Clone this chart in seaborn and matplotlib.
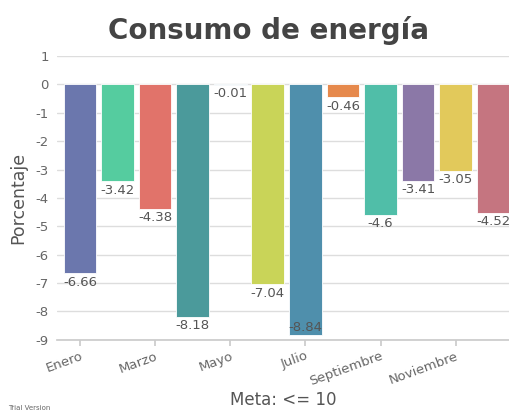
"""Monthly energy consumption bar chart (Consumo de energía)."""

import matplotlib
matplotlib.use("Agg")
import matplotlib.pyplot as plt
import pandas as pd
import seaborn as sns

months = ["Enero", "Febrero", "Marzo", "Abril", "Mayo", "Junio",
          "Julio", "Agosto", "Septiembre", "Octubre", "Noviembre", "Diciembre"]
values = [-6.66, -3.42, -4.38, -8.18, -0.01, -7.04,
          -8.84, -0.46, -4.6, -3.41, -3.05, -4.52]
colors = ["#6b77ad", "#55cc9f", "#e1736a", "#4b9a9b", "#8fb5d6", "#c9d458",
          "#4f8fac", "#e6894c", "#50bea8", "#8b78a7", "#e2c95b", "#c57580"]
shown_ticks = ["Enero", "Marzo", "Mayo", "Julio", "Septiembre", "Noviembre"]

df = pd.DataFrame({"mes": months, "valor": values})

sns.set_theme(style="whitegrid")
plt.rcParams["font.family"] = ["DejaVu Sans"]
plt.rcParams["axes.unicode_minus"] = False

fig = plt.figure(figsize=(5.09, 4.15), dpi=100)
ax = fig.add_axes([0.112, 0.181, 0.888, 0.684])

sns.barplot(data=df, x="mes", y="valor", hue="mes", palette=colors,
            legend=False, width=0.87, saturation=1, ax=ax,
            edgecolor="white", linewidth=0.6)

ax.set_ylim(-9, 1)
ax.set_xlim(-0.61, 11.42)
ax.set_yticks(range(-9, 2))
ax.tick_params(axis="y", length=0, labelsize=9.5, labelcolor="#666666", pad=6)

# value labels below each bar end
for i, v in enumerate(values):
    if v - 0.55 < -9:
        ax.text(i, -8.8, f"{v:g}", ha="center", va="bottom",
                fontsize=9.5, color="#555555")
    else:
        ax.text(i, v - 0.08, f"{v:g}", ha="center", va="top",
                fontsize=9.5, color="#555555")

tick_pos = [months.index(m) for m in shown_ticks]
ax.set_xticks(tick_pos)
ax.set_xticklabels(shown_ticks, rotation=20, ha="right",
                   rotation_mode="anchor", fontsize=9.5, color="#666666")
ax.tick_params(axis="x", length=4, color="#cccccc", bottom=True, pad=3)

ax.grid(axis="y", color="#dddddd", linewidth=1)
ax.grid(axis="x", visible=False)
for side in ["top", "right", "left"]:
    ax.spines[side].set_visible(False)
ax.spines["bottom"].set_color("#cccccc")

ax.set_xlabel("Meta: <= 10", fontsize=12, color="#555555", labelpad=2)
ax.set_ylabel("Porcentaje", fontsize=12.5, color="#555555", labelpad=6)

fig.text(0.527, 0.905, "Consumo de energía", ha="center", va="baseline",
         fontsize=20, fontweight="bold", color="#444444")
fig.text(0.016, 0.012, "Trial Version", fontsize=5, color="#666666")

fig.savefig("out.png", dpi=100)
plt.close(fig)
